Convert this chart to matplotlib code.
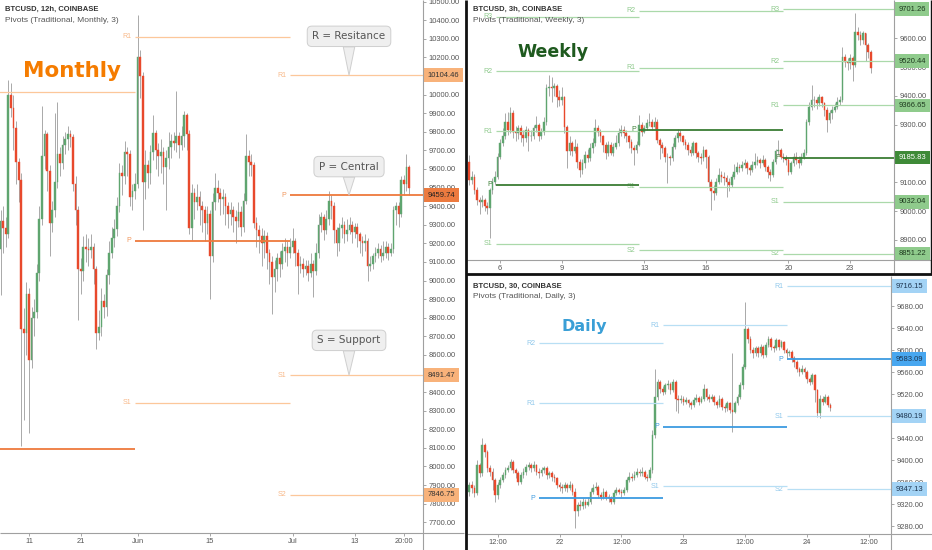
import numpy as np
import matplotlib
matplotlib.use("Agg")
import matplotlib.pyplot as plt
from matplotlib.lines import Line2D

plt.rcParams["font.family"] = ["Liberation Sans", "DejaVu Sans"]

FIG_W, FIG_H = 932, 550

GREEN = "#5fa56f"
RED = "#e8492c"
WICK = "#a9a9a9"

# =========================================================
# MONTHLY PANEL  (BTCUSD 12h, x = day counted from May 0)
# =========================================================
M_START = 5.5
M_STEP = 0.5
M_OPEN0 = 9170
M_CLOSE = [
    9320, 9280, 9250, 10000, 9930, 9820, 9640, 9540, 8740, 8720,
    8930, 8570, 8800, 8830, 9040, 9330, 9670, 9790, 9590, 9310,
    9380, 9530, 9680, 9630, 9730, 9760, 9790, 9770, 9520, 9380,
    9060, 9050, 9180, 9170, 9165, 9180, 9060, 8720, 8750, 8890,
    8860, 9030, 9150, 9230, 9275, 9400, 9580, 9560, 9690, 9680,
    9450, 9480, 9520, 10200, 10100, 9530, 9620, 9580, 9690, 9795,
    9700, 9670, 9690, 9610, 9660, 9720, 9750, 9740, 9775, 9730,
    9780, 9890, 9790, 9280, 9470, 9420, 9450, 9400, 9380, 9310,
    9360, 9130, 9420, 9500, 9470, 9440, 9450, 9400, 9360, 9380,
    9340, 9320, 9370, 9290, 9430, 9670, 9640, 9620, 9310, 9270,
    9240, 9200, 9240, 9150, 9100, 9020, 9060, 9120, 9090, 9160,
    9180, 9150, 9180, 9210, 9150, 9080, 9090, 9060, 9080, 9040,
    9090, 9050, 9150, 9300, 9340, 9270, 9330, 9430, 9400, 9270,
    9200, 9280, 9300, 9250, 9270, 9300, 9260, 9290, 9250, 9210,
    9200, 9210, 9080, 9090, 9130, 9150, 9170, 9130, 9150, 9180,
    9150, 9170, 9380, 9400, 9360, 9540, 9520, 9610, 9500,
]
M_HIGH = [
    9380, 9400, 9340, 10080, 10060, 10000, 9860, 9660, 9580, 8850,
    8990, 8960, 8860, 8900, 9090, 9400, 9940, 9810, 9800, 9620,
    9430, 9900, 9960, 9720, 9780, 9800, 9830, 9810, 9790, 9560,
    9400, 9120, 9240, 9250, 9230, 9250, 9200, 9080, 8840, 8960,
    8930, 9060, 9210, 9290, 9330, 9450, 9630, 9620, 9750, 9720,
    9700, 9520, 9580, 10430, 10240, 10120, 9700, 9650, 9730, 9890,
    9810, 9740, 9760, 9720, 9700, 9800, 9790, 9800, 10020, 9800,
    9830, 9910, 9900, 9810, 9520, 9500, 9520, 9480, 9430, 9400,
    9400, 9380, 9470, 9580, 9540, 9500, 9490, 9470, 9420, 9420,
    9400, 9380, 9420, 9400, 9470, 9790, 9700, 9680, 9640, 9340,
    9300, 9280, 9270, 9260, 9170, 9130, 9110, 9150, 9160, 9200,
    9230, 9210, 9230, 9280, 9230, 9170, 9130, 9120, 9110, 9110,
    9150, 9110, 9200, 9360, 9370, 9360, 9380, 9480, 9460, 9420,
    9290, 9310, 9340, 9320, 9330, 9340, 9320, 9310, 9310, 9260,
    9240, 9250, 9230, 9130, 9150, 9180, 9200, 9190, 9210, 9210,
    9200, 9200, 9400, 9420, 9420, 9560, 9570, 9680, 9620,
]
M_LOW = [
    8920, 9150, 9180, 9230, 9880, 9700, 9520, 9420, 8110, 8250,
    8600, 8180, 8530, 8700, 8800, 9000, 9300, 9600, 9480, 9130,
    9260, 9340, 9500, 9560, 9600, 9680, 9700, 9720, 9480, 9300,
    8790, 8930, 9000, 9100, 9080, 9120, 8980, 8630, 8680, 8700,
    8800, 8810, 8980, 9120, 9180, 9240, 9370, 9460, 9520, 9560,
    9400, 9380, 9440, 9500, 9980, 9270, 9440, 9500, 9520, 9650,
    9600, 9560, 9580, 9520, 9380, 9600, 9660, 9700, 9690, 9660,
    9700, 9720, 9700, 9250, 9220, 9330, 9380, 9300, 9260, 9210,
    9250, 8900, 9100, 9380, 9420, 9350, 9360, 9300, 9280, 9300,
    9260, 9200, 9290, 9240, 9260, 9410, 9560, 9560, 9280, 9180,
    9150, 9080, 9120, 9060, 8980, 8820, 8940, 9000, 9020, 9060,
    9100, 9080, 9120, 9150, 9080, 8930, 9040, 9020, 9030, 9000,
    9020, 8910, 9030, 9120, 9260, 9220, 9250, 9300, 9330, 9200,
    9130, 9160, 9230, 9200, 9210, 9250, 9200, 9230, 9180, 9150,
    9130, 9160, 9000, 9050, 9060, 9100, 9120, 9100, 9110, 9120,
    9110, 9130, 9150, 9300, 9290, 9340, 9460, 9480, 9460,
]
M_BOUNDS = [(0.0, 31.5), (31.5, 61.5), (61.5, 95.0)]
M_LEVELS = [
    {"R1": 10014, "P": 8094},
    {"R1": 10312, "P": 9213, "S1": 8343},
    {"R1": 10104.46, "P": 9459.74, "S1": 8491.47, "S2": 7846.75},
]
M_XTICKS = [11, 21, 32, 46, 62, 74, 83.5]
M_XLABELS = ["11", "21", "Jun", "15", "Jul", "13", "20:00"]
M_YTICKS = list(range(7700, 10501, 100))
CALLOUTS = [("R = Resitance", 10104.46, 28), ("P = Central", 9459.74, 20.5),
            ("S = Support", 8491.47, 25)]
CALLOUT_X = 72.9

# =========================================================
# WEEKLY PANEL  (BTCUSD 3h, x = day of July)
# =========================================================
W_START = 4.5
W_STEP = 0.125
W_OPEN0 = 9172
W_CLOSE = [
    9108, 9120, 9073, 9039, 9033, 9039, 9016, 9010, 9073, 9102,
    9120, 9189, 9235, 9259, 9311, 9282, 9340, 9276, 9270, 9288,
    9264, 9253, 9282, 9259, 9262, 9288, 9299, 9259, 9276, 9311,
    9426, 9430, 9426, 9434, 9397, 9386, 9397, 9293, 9207, 9235,
    9207, 9224, 9172, 9143, 9166, 9195, 9183, 9218, 9235, 9288,
    9276, 9259, 9230, 9201, 9230, 9201, 9224, 9235, 9270, 9282,
    9270, 9259, 9241, 9218, 9212, 9230, 9299, 9276, 9288, 9305,
    9311, 9293, 9311, 9247, 9230, 9218, 9189, 9189, 9183, 9224,
    9253, 9270, 9259, 9241, 9230, 9212, 9201, 9235, 9201, 9189,
    9183, 9212, 9189, 9102, 9068, 9062, 9102, 9125, 9120, 9114,
    9102, 9091, 9120, 9137, 9154, 9149, 9160, 9166, 9149, 9143,
    9160, 9172, 9178, 9166, 9178, 9154, 9137, 9125, 9172, 9207,
    9212, 9189, 9183, 9178, 9137, 9166, 9189, 9178, 9166, 9189,
    9201, 9311, 9363, 9386, 9386, 9374, 9397, 9374, 9351, 9316,
    9340, 9351, 9363, 9380, 9386, 9536, 9519, 9513, 9531, 9507,
    9623, 9612, 9594, 9617, 9577, 9554, 9496,
]
W_HIGH = [
    9195, 9140, 9130, 9085, 9050, 9055, 9045, 9030, 9080, 9115,
    9140, 9200, 9250, 9290, 9340, 9345, 9360, 9350, 9295, 9300,
    9300, 9280, 9295, 9290, 9280, 9300, 9330, 9305, 9290, 9325,
    9440, 9473, 9465, 9445, 9440, 9420, 9430, 9400, 9300, 9260,
    9245, 9250, 9235, 9180, 9180, 9210, 9215, 9235, 9255, 9320,
    9300, 9285, 9265, 9240, 9245, 9240, 9235, 9265, 9290, 9300,
    9295, 9280, 9265, 9250, 9230, 9245, 9334, 9310, 9300, 9320,
    9340, 9320, 9325, 9320, 9255, 9240, 9225, 9200, 9195, 9235,
    9265, 9285, 9280, 9265, 9250, 9240, 9225, 9245, 9240, 9210,
    9200, 9225, 9215, 9195, 9110, 9090, 9115, 9150, 9140, 9135,
    9125, 9115, 9130, 9165, 9170, 9165, 9175, 9180, 9175, 9160,
    9175, 9200, 9190, 9185, 9195, 9185, 9160, 9145, 9180, 9215,
    9247, 9220, 9200, 9195, 9185, 9175, 9200, 9205, 9190, 9200,
    9215, 9320, 9380, 9438, 9400, 9395, 9405, 9400, 9380, 9360,
    9350, 9365, 9375, 9395, 9400, 9571, 9545, 9530, 9545, 9540,
    9687, 9640, 9625, 9625, 9620, 9585, 9560,
]
W_LOW = [
    9090, 9095, 9060, 9020, 8990, 9015, 9000, 8990, 8905, 9060,
    9090, 9110, 9180, 9225, 9250, 9265, 9270, 9255, 9245, 9250,
    9240, 9225, 9240, 9210, 9245, 9250, 9275, 9245, 9250, 9265,
    9300, 9400, 9380, 9400, 9360, 9365, 9370, 9270, 9150, 9195,
    9190, 9200, 9150, 9120, 9130, 9150, 9170, 9175, 9200, 9225,
    9260, 9240, 9205, 9180, 9190, 9195, 9190, 9215, 9225, 9260,
    9255, 9240, 9220, 9200, 9160, 9200, 9225, 9260, 9270, 9280,
    9295, 9280, 9285, 9235, 9180, 9200, 9170, 9097, 9160, 9175,
    9215, 9240, 9245, 9230, 9215, 9195, 9190, 9195, 9185, 9170,
    9165, 9175, 9150, 9085, 9004, 9040, 9055, 9095, 9100, 9090,
    9050, 9070, 9085, 9110, 9130, 9135, 9140, 9150, 9130, 9125,
    9135, 9150, 9160, 9150, 9160, 9140, 9115, 9105, 9120, 9165,
    9195, 9180, 9170, 9160, 9125, 9130, 9155, 9165, 9150, 9160,
    9180, 9195, 9300, 9350, 9360, 9355, 9365, 9360, 9330, 9276,
    9305, 9320, 9345, 9355, 9370, 9380, 9500, 9490, 9495, 9450,
    9500, 9595, 9575, 9580, 9520, 9530, 9478,
]
W_BOUNDS = [(5.8, 12.75), (12.75, 19.75), (19.75, 30.0)]
W_LEVELS = [
    {"R3": 9674, "R2": 9486, "R1": 9278, "P": 9091, "S1": 8886},
    {"R2": 9696, "R1": 9498, "P": 9282, "S1": 9084, "S2": 8863},
    {"R3": 9701.26, "R2": 9520.44, "R1": 9366.65, "P": 9185.83,
     "S1": 9032.04, "S2": 8851.22},
]
W_XTICKS = [6, 9, 13, 16, 20, 23]
W_XLABELS = ["6", "9", "13", "16", "20", "23"]
W_YTICKS = list(range(8900, 9601, 100))

# =========================================================
# DAILY PANEL  (BTCUSD 30min, x = hours from Jul 21 00:00)
# =========================================================
D_START = 6.5
D_STEP = 0.5
D_OPEN0 = 9343
D_CLOSE = [
    9355, 9349, 9340, 9391, 9376, 9427, 9415, 9385, 9379, 9364,
    9337, 9355, 9364, 9373, 9382, 9385, 9397, 9382, 9376, 9361,
    9373, 9379, 9388, 9391, 9385, 9391, 9379, 9376, 9382, 9385,
    9373, 9376, 9370, 9367, 9355, 9352, 9349, 9355, 9349, 9355,
    9343, 9307, 9319, 9316, 9325, 9319, 9325, 9343, 9349, 9352,
    9337, 9334, 9343, 9334, 9331, 9325, 9340, 9346, 9343, 9340,
    9346, 9364, 9370, 9367, 9373, 9379, 9376, 9379, 9370, 9367,
    9382, 9446, 9515, 9542, 9530, 9524, 9536, 9539, 9527, 9542,
    9512, 9509, 9512, 9506, 9509, 9503, 9500, 9509, 9513, 9506,
    9512, 9530, 9515, 9512, 9515, 9506, 9500, 9512, 9497, 9494,
    9503, 9491, 9488, 9503, 9515, 9536, 9569, 9639, 9621, 9600,
    9594, 9603, 9594, 9606, 9591, 9609, 9621, 9606, 9603, 9618,
    9606, 9615, 9600, 9594, 9597, 9585, 9578, 9566, 9560, 9566,
    9560, 9548, 9542, 9554, 9527, 9485, 9512, 9506, 9515, 9500,
    9495,
]
D_HIGH = [
    9360, 9362, 9355, 9400, 9395, 9440, 9432, 9418, 9392, 9385,
    9368, 9360, 9370, 9378, 9388, 9392, 9403, 9400, 9386, 9380,
    9378, 9386, 9393, 9397, 9395, 9398, 9394, 9385, 9388, 9390,
    9389, 9381, 9380, 9375, 9370, 9360, 9356, 9360, 9358, 9362,
    9358, 9350, 9325, 9328, 9331, 9330, 9334, 9350, 9356, 9361,
    9355, 9342, 9349, 9346, 9338, 9335, 9345, 9352, 9350, 9348,
    9352, 9370, 9378, 9376, 9380, 9385, 9384, 9388, 9382, 9375,
    9387, 9455, 9566, 9548, 9546, 9535, 9541, 9545, 9542, 9547,
    9545, 9518, 9518, 9516, 9514, 9512, 9508, 9514, 9520, 9516,
    9517, 9539, 9532, 9520, 9520, 9518, 9509, 9518, 9515, 9502,
    9508, 9506, 9594, 9508, 9520, 9542, 9575, 9687, 9642, 9625,
    9606, 9608, 9607, 9611, 9609, 9614, 9625, 9624, 9610, 9622,
    9620, 9619, 9617, 9604, 9601, 9600, 9589, 9582, 9570, 9572,
    9570, 9563, 9552, 9558, 9557, 9530, 9518, 9516, 9520, 9518,
    9504,
]
D_LOW = [
    9335, 9340, 9334, 9336, 9370, 9372, 9405, 9378, 9372, 9345,
    9325, 9330, 9350, 9360, 9368, 9378, 9382, 9376, 9368, 9355,
    9357, 9368, 9374, 9382, 9378, 9380, 9373, 9368, 9372, 9376,
    9366, 9368, 9362, 9360, 9349, 9344, 9340, 9344, 9342, 9345,
    9336, 9276, 9298, 9309, 9312, 9314, 9316, 9320, 9338, 9345,
    9332, 9328, 9330, 9328, 9324, 9320, 9321, 9336, 9338, 9334,
    9336, 9342, 9360, 9362, 9364, 9370, 9371, 9372, 9365, 9362,
    9364, 9376, 9440, 9510, 9522, 9518, 9520, 9530, 9520, 9524,
    9490, 9485, 9504, 9500, 9502, 9496, 9493, 9497, 9505, 9500,
    9503, 9508, 9510, 9506, 9508, 9500, 9494, 9497, 9492, 9488,
    9490, 9486, 9452, 9485, 9500, 9512, 9530, 9565, 9612, 9595,
    9585, 9590, 9588, 9590, 9585, 9588, 9605, 9600, 9597, 9600,
    9600, 9603, 9595, 9586, 9590, 9578, 9570, 9560, 9553, 9556,
    9552, 9540, 9536, 9538, 9505, 9478, 9476, 9500, 9503, 9496,
    9490,
]
D_BOUNDS = [(20, 44), (44, 68), (68, 100)]
D_LEVELS = [
    {"R2": 9612, "R1": 9503, "P": 9331},
    {"R1": 9645, "P": 9461, "S1": 9353},
    {"R1": 9716.15, "P": 9583.09, "S1": 9480.19, "S2": 9347.13},
]
D_XTICKS = [12, 24, 36, 48, 60, 72, 84]
D_XLABELS = ["12:00", "22", "12:00", "23", "12:00", "24", "12:00"]
D_YTICKS = list(range(9280, 9681, 40))


# ---------------------------------------------------------
# helpers
# ---------------------------------------------------------
def px_box(x0, y0, w, h):
    # pixel box (top-left origin) -> figure fraction rect
    return [x0 / FIG_W, 1 - (y0 + h) / FIG_H, w / FIG_W, h / FIG_H]


def fig_line(fig, x0, y0, x1, y1, color="#a0a0a0", lw=0.8):
    fig.add_artist(Line2D([x0 / FIG_W, x1 / FIG_W], [1 - y0 / FIG_H, 1 - y1 / FIG_H],
                          transform=fig.transFigure, color=color, lw=lw,
                          solid_capstyle="butt"))


def draw_candles(ax, start, step, open0, closes, highs, lows, width):
    c = np.array(closes, dtype=float)
    o = np.concatenate([[open0], c[:-1]])
    x = start + step * np.arange(len(c))
    cols = np.where(c >= o, GREEN, RED)
    ax.vlines(x, lows, highs, color=WICK, linewidth=0.7, zorder=2)
    ax.bar(x, np.abs(c - o), bottom=np.minimum(o, c), width=width,
           color=cols, edgecolor=cols, linewidth=0.3, zorder=3)


def draw_pivots(ax, bounds, levels, light, dark, lab_light, lab_dark):
    for (x0, x1), lev in zip(bounds, levels):
        for name, val in lev.items():
            is_p = name == "P"
            ax.hlines(val, x0, x1, color=dark if is_p else light,
                      lw=1.3 if is_p else 0.9, zorder=4)
            ax.annotate(name, xy=(x0, val), xytext=(-2.5, 0), textcoords="offset points",
                        ha="right", va="center", fontsize=5,
                        color=lab_dark if is_p else lab_light, annotation_clip=True)


def add_tags(ax, lev, fc_light, fc_dark, tc_light, tc_dark):
    for name, val in lev.items():
        is_p = name == "P"
        ax.annotate(f"{val:.2f}", xy=(1, val), xycoords=ax.get_yaxis_transform(),
                    xytext=(3.2, 0), textcoords="offset points", ha="left", va="center",
                    fontsize=5.5, color=tc_dark if is_p else tc_light,
                    bbox=dict(boxstyle="square,pad=0.45", fc=fc_dark if is_p else fc_light, ec="none"),
                    annotation_clip=False, zorder=8)


def style_axis(ax, xlim, ylim, xticks, xlabels, yticks):
    ax.set_xlim(*xlim)
    ax.set_ylim(*ylim)
    for s in ax.spines.values():
        s.set_visible(False)
    ax.yaxis.tick_right()
    ax.set_yticks(yticks)
    ax.set_yticklabels([f"{v:.2f}" for v in yticks])
    ax.set_xticks(xticks)
    ax.set_xticklabels(xlabels)
    ax.tick_params(axis="y", length=2.5, width=0.6, color="#999999",
                   labelcolor="#555555", labelsize=5.4, pad=1.5)
    ax.tick_params(axis="x", length=2, width=0.6, color="#999999",
                   labelcolor="#555555", labelsize=5.4, pad=1.5)


def add_titles(ax, y1, y2, line1, line2):
    ax.text(0.012, y1, line1, transform=ax.transAxes, fontsize=5.5, fontweight="bold",
            color="#333333", va="center", ha="left", zorder=9)
    ax.text(0.012, y2, line2, transform=ax.transAxes, fontsize=6, color="#555555",
            va="center", ha="left", zorder=9)


# ---------------------------------------------------------
# main
# ---------------------------------------------------------
fig = plt.figure(figsize=(FIG_W / 100, FIG_H / 100), dpi=100)
fig.patch.set_facecolor("white")

# ---- Monthly ----
axm = fig.add_axes(px_box(0, 0, 423, 533))
draw_candles(axm, M_START, M_STEP, M_OPEN0, M_CLOSE, M_HIGH, M_LOW, 0.33)
draw_pivots(axm, M_BOUNDS, M_LEVELS, "#fcc79a", "#ee7a3d", "#f8b888", "#f0955a")
add_tags(axm, M_LEVELS[-1], "#f8b27a", "#ec7a3f", "#333333", "#222222")
style_axis(axm, (5.39, 87.21), (7642, 10509), M_XTICKS, M_XLABELS, M_YTICKS)
add_titles(axm, 1 - 9 / 533, 1 - 20 / 533, "BTCUSD, 12h, COINBASE", "Pivots (Traditional, Monthly, 3)")
axm.text(0.0544, 1 - 77.3 / 533, "Monthly", transform=axm.transAxes, fontsize=15.5,
         fontweight="bold", color="#f57c00", family="DejaVu Sans", va="baseline", ha="left")
for txt, val, off in CALLOUTS:
    axm.annotate(txt, xy=(CALLOUT_X, val), xytext=(0, off), textcoords="offset points",
                 ha="center", va="center", fontsize=7.5, color="#555555", family="DejaVu Sans",
                 bbox=dict(boxstyle="round,pad=0.5,rounding_size=0.45", fc="#efefef",
                           ec="#cfcfcf", lw=0.7),
                 arrowprops=dict(arrowstyle="wedge,tail_width=1.1,shrink_factor=0.5",
                                 fc="#efefef", ec="#cfcfcf", lw=0.7,
                                 shrinkA=0, shrinkB=0, relpos=(0.5, 0.0)),
                 zorder=7)

# ---- Weekly ----
axw = fig.add_axes(px_box(468, 0, 426, 260))
draw_candles(axw, W_START, W_STEP, W_OPEN0, W_CLOSE, W_HIGH, W_LOW, 0.085)
draw_pivots(axw, W_BOUNDS, W_LEVELS, "#abd9aa", "#3a7d34", "#8fca8d", "#3a7d34")
add_tags(axw, W_LEVELS[-1], "#8fcb8c", "#3e8a37", "#1e3a1e", "#ffffff")
style_axis(axw, (4.44, 25.13), (8830, 9733), W_XTICKS, W_XLABELS, W_YTICKS)
add_titles(axw, 1 - 9 / 260, 1 - 20 / 260, "BTCUSD, 3h, COINBASE", "Pivots (Traditional, Weekly, 3)")
axw.text(0.115, 1 - 57.3 / 260, "Weekly", transform=axw.transAxes, fontsize=12.5,
         fontweight="bold", color="#1f5a1f", family="DejaVu Sans", va="baseline", ha="left")

# ---- Daily ----
axd = fig.add_axes(px_box(468, 277, 423, 257))
draw_candles(axd, D_START, D_STEP, D_OPEN0, D_CLOSE, D_HIGH, D_LOW, 0.33)
draw_pivots(axd, D_BOUNDS, D_LEVELS, "#b8dff4", "#3d9be0", "#91c9ec", "#3d9be0")
add_tags(axd, D_LEVELS[-1], "#a3d3f5", "#48a7f0", "#1d3550", "#1d3550")
style_axis(axd, (6.24, 88.25), (9266, 9732.7), D_XTICKS, D_XLABELS, D_YTICKS)
add_titles(axd, 1 - 9 / 257, 1 - 19 / 257, "BTCUSD, 30, COINBASE", "Pivots (Traditional, Daily, 3)")
axd.text(0.222, 1 - 54.3 / 257, "Daily", transform=axd.transAxes, fontsize=11.5,
         fontweight="bold", color="#3a9fd6", family="DejaVu Sans", va="baseline", ha="left")

# ---- axis lines and panel separators ----
fig_line(fig, 0, 533, 464, 533)
fig_line(fig, 423, 0, 423, 550)
fig_line(fig, 467, 260, 932, 260)
fig_line(fig, 894, 0, 894, 273)
fig_line(fig, 467, 534, 932, 534)
fig_line(fig, 891, 276, 891, 550)
fig_line(fig, 465.5, 0, 465.5, 550, color="#111111", lw=2.0)
fig_line(fig, 466, 274.5, 932, 274.5, color="#111111", lw=2.0)
fig_line(fig, 931.3, 0, 931.3, 274, color="#111111", lw=1.0)

fig.savefig("out.png", dpi=100)
